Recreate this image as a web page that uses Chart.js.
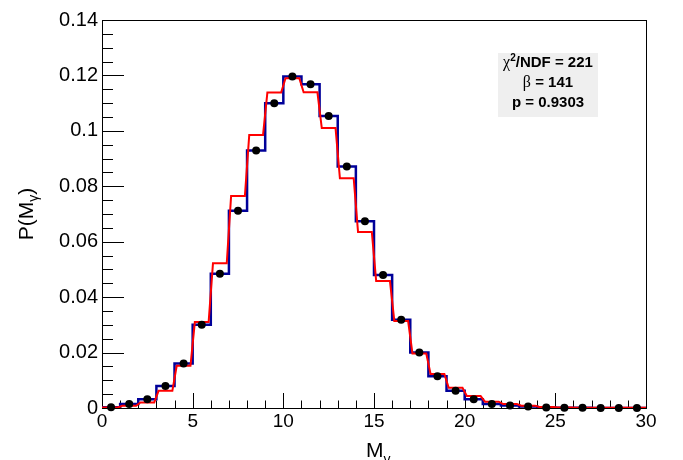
<!DOCTYPE html>
<html lang="en">
<head>
    <meta charset="UTF-8">
    <title>P(M_gamma)</title>
    <script src="https://cdn.jsdelivr.net/npm/chart.js"></script>
    <style>
        body { margin:0; background:#fff; }
    </style>
</head>
<body>
    <canvas id="myChart" width="683" height="460"></canvas>

    <script>
        // bin edges 0..30, width 1
        const binEdges = [0,1,2,3,4,5,6,7,8,9,10,11,12,13,14,15,16,17,18,19,20,21,22,23,24,25,26,27,28,29,30];
        // blue histogram (and the black points at bin centres)
        const dataValues = [0.0003,0.0014,0.0032,0.0079,0.0161,0.0300,0.0484,0.0712,0.0929,0.1100,
                            0.1196,0.1168,0.1054,0.0871,0.0674,0.0480,0.0318,0.0200,0.0115,0.0062,
                            0.0032,0.0014,0.0009,0.0005,0.0002,0.0001,0.0001,0.0000,0.0000,0.0000];
        // red model curve
        const modelValues = [0.0002,0.0008,0.0020,0.0062,0.0152,0.0310,0.0522,0.0765,0.0985,0.1138,
                             0.1190,0.1139,0.1010,0.0829,0.0635,0.0458,0.0314,0.0197,0.0123,0.0073,
                             0.0043,0.0023,0.0014,0.0008,0.0004,0.0002,0.0001,0.0001,0.0001,0.0001];
        const xTickValues = [0,5,10,15,20,25,30];
        const yTickValues = [0,0.02,0.04,0.06,0.08,0.1,0.12,0.14];
        const statLines = ['χ²/NDF = 221','β = 141','p = 0.9303'];

        //------------------------
        // build line points
        //------------------------
        const bluePts = [{x:binEdges[0], y:0}];
        dataValues.forEach((v,i)=>{
            bluePts.push({x:binEdges[i], y:v});
            bluePts.push({x:binEdges[i+1], y:v});
        });
        bluePts.push({x:binEdges[binEdges.length-1], y:0});

        const redPts = [{x:binEdges[0], y:modelValues[0]}];
        modelValues.forEach((v,i)=>{
            redPts.push({x:binEdges[i]+0.12, y:v});
            redPts.push({x:binEdges[i+1]-0.12, y:v});
        });
        redPts.push({x:binEdges[binEdges.length-1], y:modelValues[modelValues.length-1]});

        const dotPts = dataValues.map((v,i)=>({x:(binEdges[i]+binEdges[i+1])/2, y:v}));

        //------------------------
        // frame + inside ticks (ROOT style)
        //------------------------
        const frameTicks = {
            id:'frameTicks',
            beforeDatasetsDraw(chart){
                const {ctx, chartArea:a, scales:{x,y}} = chart;
                ctx.save();
                ctx.strokeStyle = '#000';
                ctx.lineWidth = 1;
                ctx.strokeRect(Math.round(a.left)+0.5, Math.round(a.top)+0.5,
                    Math.round(a.right-a.left), Math.round(a.bottom-a.top));
                ctx.beginPath();
                for(let i=0;i<=30;i++){
                    const px = Math.round(x.getPixelForValue(i))+0.5;
                    const len = (i%5===0) ? 15 : 7.5;
                    ctx.moveTo(px, a.bottom);
                    ctx.lineTo(px, a.bottom-len);
                }
                for(let i=0;i<=28;i++){
                    const py = Math.round(y.getPixelForValue(i*0.005))+0.5;
                    const len = (i%4===0) ? 22 : 11;
                    ctx.moveTo(a.left, py);
                    ctx.lineTo(a.left+len, py);
                }
                ctx.stroke();
                ctx.restore();
            },
            afterDraw(chart){
                const {ctx, chartArea:a} = chart;
                ctx.save();
                ctx.fillStyle = '#000';

                // y title P(M_gamma), rotated
                ctx.translate(27.5, (a.top+a.bottom)/2);
                ctx.rotate(-Math.PI/2);
                ctx.textBaseline = 'middle';
                ctx.font = '21px "Liberation Sans", Arial, sans-serif';
                const w1 = ctx.measureText('P(M').width;
                const w3 = ctx.measureText(')').width;
                ctx.font = '14px "Liberation Sans", Arial, sans-serif';
                const w2 = ctx.measureText('γ').width;
                let sx = -(w1+w2+w3)/2;
                ctx.font = '21px "Liberation Sans", Arial, sans-serif';
                ctx.fillText('P(M', sx, 0);
                ctx.font = '14px "Liberation Sans", Arial, sans-serif';
                ctx.fillText('γ', sx+w1, 7);
                ctx.font = '21px "Liberation Sans", Arial, sans-serif';
                ctx.fillText(')', sx+w1+w2, 0);
                ctx.restore();

                // x title M_gamma
                ctx.save();
                ctx.fillStyle = '#000';
                ctx.textBaseline = 'alphabetic';
                ctx.font = '21px "Liberation Sans", Arial, sans-serif';
                const mw = ctx.measureText('M').width;
                ctx.fillText('M', 366, 457);
                ctx.font = '14px "Liberation Sans", Arial, sans-serif';
                ctx.fillText('γ', 366+mw, 464);
                ctx.restore();

                // stats box
                ctx.save();
                ctx.fillStyle = '#efefef';
                ctx.fillRect(498, 53, 100, 64);
                ctx.fillStyle = '#000';
                ctx.textBaseline = 'middle';
                const cx = 548;
                const bold = 'bold 15px "Liberation Sans", Arial, sans-serif';
                const serif = '16px "Liberation Serif", "Times New Roman", serif';
                const sup = 'bold 10px "Liberation Sans", Arial, sans-serif';
                const parts1 = [
                    {t:'χ', f:serif, dy:0},
                    {t:'2', f:sup, dy:-5},
                    {t:'/NDF = 221', f:bold, dy:0}
                ];
                const parts2 = [
                    {t:'β', f:serif, dy:0},
                    {t:' = 141', f:bold, dy:0}
                ];
                const parts3 = [
                    {t:statLines[2], f:bold, dy:0}
                ];
                const drawParts = (parts, cy)=>{
                    let tw = 0;
                    parts.forEach(p=>{ ctx.font = p.f; p.w = ctx.measureText(p.t).width; tw += p.w; });
                    let px = cx - tw/2;
                    parts.forEach(p=>{ ctx.font = p.f; ctx.fillText(p.t, px, cy+p.dy); px += p.w; });
                };
                drawParts(parts1, 63);
                drawParts(parts2, 83);
                drawParts(parts3, 103);
                ctx.restore();
            }
        };

        //------------------------
        // chart
        //------------------------
        const tickFontX = {family:'"Liberation Sans", Arial, sans-serif', size:19};
        const tickFontY = {family:'"Liberation Sans", Arial, sans-serif', size:20};

        var ctx = document.querySelector('#myChart').getContext('2d');
        var myChart = new Chart(ctx,{
            type:'line',
            data:{
                datasets:[
                    {
                        label:'data',
                        type:'scatter',
                        data:dotPts,
                        pointRadius:4,
                        pointBackgroundColor:'#000',
                        pointBorderColor:'#000',
                        pointBorderWidth:0,
                        showLine:false,
                        clip:false,
                        order:0
                    },
                    {
                        label:'model',
                        data:redPts,
                        borderColor:'#ff0000',
                        borderWidth:2,
                        pointRadius:0,
                        tension:0,
                        fill:false,
                        order:1
                    },
                    {
                        label:'hist',
                        data:bluePts,
                        borderColor:'#000099',
                        borderWidth:2.5,
                        borderJoinStyle:'miter',
                        pointRadius:0,
                        tension:0,
                        fill:false,
                        order:2
                    }
                ]
            },
            options:{
                responsive:false,
                animation:false,
                devicePixelRatio:1,
                layout:{padding:{top:20, right:37, left:0, bottom:0}},
                plugins:{
                    legend:{display:false},
                    tooltip:{enabled:false}
                },
                scales:{
                    x:{
                        type:'linear',
                        min:0, max:30,
                        afterFit:(s)=>{ s.height = 52; },
                        afterBuildTicks:(s)=>{ s.ticks = xTickValues.map(v=>({value:v})); },
                        grid:{display:false, drawTicks:false},
                        border:{display:false},
                        ticks:{
                            color:'#000',
                            font:tickFontX,
                            padding:2,
                            maxRotation:0,
                            autoSkip:false,
                            callback:(v)=>String(v)
                        }
                    },
                    y:{
                        type:'linear',
                        min:0, max:0.14,
                        afterFit:(s)=>{ s.width = 102; },
                        afterBuildTicks:(s)=>{ s.ticks = yTickValues.map(v=>({value:v})); },
                        grid:{display:false, drawTicks:false},
                        border:{display:false},
                        ticks:{
                            color:'#000',
                            font:tickFontY,
                            padding:4,
                            autoSkip:false,
                            callback:(v)=>String(Number(v.toFixed(4)))
                        }
                    }
                }
            },
            plugins:[frameTicks]
        });
    </script>
</body>
</html>
